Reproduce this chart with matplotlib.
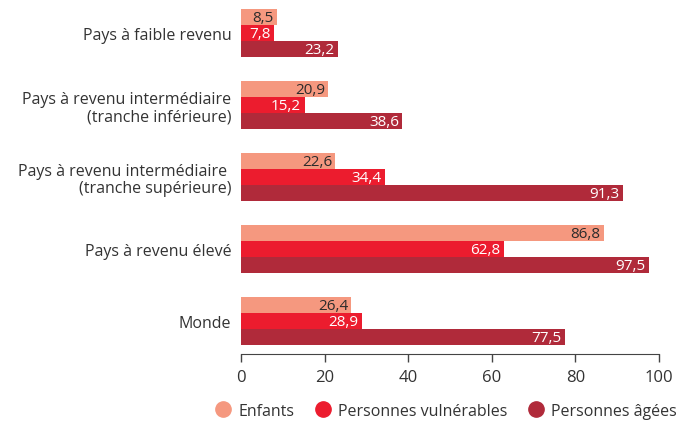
import numpy as np
import matplotlib.pyplot as plt
from matplotlib.lines import Line2D

# données
categories = ["Pays à faible revenu",
              "Pays à revenu intermédiaire\n(tranche inférieure)",
              "Pays à revenu intermédiaire \n(tranche supérieure)",
              "Pays à revenu élevé",
              "Monde"]
series = ["Enfants", "Personnes vulnérables", "Personnes âgées"]
enfants = [8.5, 20.9, 22.6, 86.8, 26.4]
vulnerables = [7.8, 15.2, 34.4, 62.8, 28.9]
agees = [23.2, 38.6, 91.3, 97.5, 77.5]

colors = ["#F5987F", "#EC1C2E", "#B02A3A"]
txt_colors = ["#2b2b2b", "white", "white"]

plt.rcParams['font.family'] = ['Open Sans', 'DejaVu Sans']
fig = plt.figure(figsize=(6.92, 4.27), dpi=100)
ax = fig.add_axes([241/692, 1-355/427, 418/692, 345/427])

y = np.arange(len(categories))
h = 0.222
for i, (vals, c, tc) in enumerate(zip([enfants, vulnerables, agees], colors, txt_colors)):
    pos = y + (i - 1) * h
    ax.barh(pos, vals, height=h, color=c, linewidth=0)
    for p, v in zip(pos, vals):
        ax.text(v - 0.8, p + 0.01, f"{v:.1f}".replace(".", ","), ha="right", va="center",
                color=tc, fontsize=11)

ax.set_xlim(0, 100)
ax.set_ylim(4.458, -0.333)
ax.set_yticks(y)
ax.set_yticklabels(categories, fontsize=11.5, color="#333333", multialignment="right",
                   linespacing=1.1)
ax.tick_params(axis="y", length=0, pad=7)
ax.set_xticks([0, 20, 40, 60, 80, 100])
ax.tick_params(axis="x", direction="out", length=6, width=1, color="#444444",
               labelsize=12, labelcolor="#333333", pad=5)
for s in ["top", "right", "left"]:
    ax.spines[s].set_visible(False)
ax.spines["bottom"].set_color("#444444")

handles = [Line2D([], [], marker="o", linestyle="", markersize=11, color=c) for c in colors]
fig.legend(handles, series, loc="center", bbox_to_anchor=(446/692, 1-412/427), ncol=3,
           frameon=False, fontsize=11.5, handletextpad=0.45, columnspacing=1.3,
           handlelength=1.0, labelcolor="#333333")

fig.savefig("out.png", dpi=100)
